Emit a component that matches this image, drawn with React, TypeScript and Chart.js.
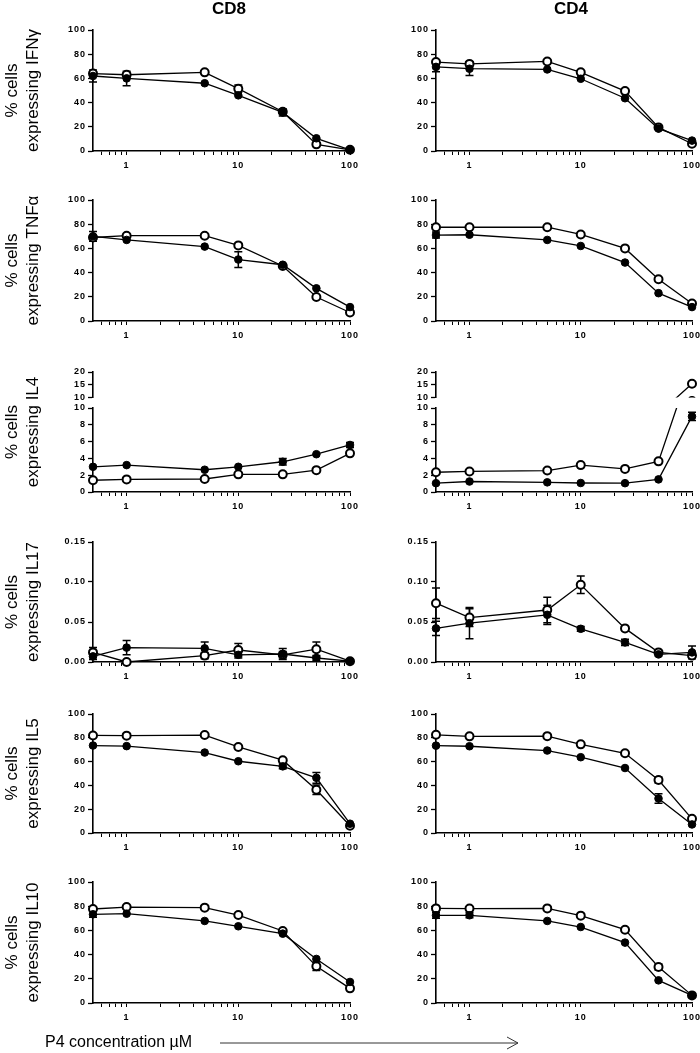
import React, { useEffect, useRef } from 'react';
import { Chart, registerables } from 'chart.js';

Chart.register(...registerables);

// ---------------- data ----------------
const concentrations = [0.5, 1, 5, 10, 25, 50, 100];
const xTickValues = [0.6, 0.7, 0.8, 0.9, 1, 2, 3, 4, 5, 6, 7, 8, 9, 10, 20, 30, 40, 50, 60, 70, 80, 90, 100];
const xLabelledValues = [1, 10, 100];
const xTickLabels = ['1', '10', '100'];
const columnTitles = ['CD8', 'CD4'];
const cytokines = ['IFNγ', 'TNFα', 'IL4', 'IL17', 'IL5', 'IL10'];
const yTitlePrefix = '% cells';
const xAxisTitle = 'P4 concentration µM';
const percentTicks = [0, 20, 40, 60, 80, 100];
const il4LowTicks = [0, 2, 4, 6, 8, 10];
const il4HighTicks = [10, 15, 20];
const il17Ticks = [0, 0.05, 0.1, 0.15];

const ifngCd8Filled = [62, 60, 56, 46, 32, 10.5, 1];
const ifngCd8FilledErr = [5, 6, 0, 0, 3, 0, 0];
const ifngCd8Open = [64, 63, 65, 51.5, 32.5, 5.5, 1];
const ifngCd8OpenErr = [1.5, 1.5, 0, 3, 1.5, 0, 0];
const ifngCd4Filled = [69.5, 68, 67.4, 59.7, 43.6, 18.5, 8.6];
const ifngCd4FilledErr = [4, 5.5, 0, 0, 0, 0, 0];
const ifngCd4Open = [73.5, 72, 74, 65, 49.5, 19.5, 6];
const ifngCd4OpenErr = [1.5, 1.5, 0, 0, 0, 0, 0];

const tnfCd8Filled = [70, 67, 61.5, 50.8, 46.5, 27, 11.5];
const tnfCd8FilledErr = [4, 0, 0, 6.5, 0, 0, 0];
const tnfCd8Open = [69, 70.5, 70.5, 62.5, 45.5, 19.8, 7];
const tnfCd8OpenErr = [0, 0, 0, 0, 0, 0, 0];
const tnfCd4Filled = [71, 71.3, 67, 62, 48.3, 23, 11.5];
const tnfCd4FilledErr = [2.5, 0, 0, 0, 0, 0, 0];
const tnfCd4Open = [77.5, 77.5, 77.5, 71.5, 60, 34.5, 14.5];
const tnfCd4OpenErr = [0, 0, 0, 0, 0, 0, 0];

const il4Cd8Filled = [3.0, 3.2, 2.65, 3.0, 3.6, 4.5, 5.6];
const il4Cd8FilledErr = [0, 0, 0, 0, 0.4, 0, 0.3];
const il4Cd8Open = [1.4, 1.5, 1.55, 2.1, 2.1, 2.6, 4.6];
const il4Cd8OpenErr = [0, 0, 0, 0, 0, 0, 0];
const il4Cd4Filled = [1.05, 1.25, 1.15, 1.07, 1.05, 1.5, 9.0];
const il4Cd4FilledErr = [0, 0, 0, 0, 0, 0, 0.5];
const il4Cd4Open = [2.35, 2.45, 2.55, 3.2, 2.75, 3.65, 15.4];
const il4Cd4OpenErr = [0, 0, 0, 0, 0, 0, 0];

const il17Cd8Filled = [0.007, 0.018, 0.017, 0.009, 0.01, 0.005, 0.001];
const il17Cd8FilledErr = [0.004, 0.009, 0.008, 0.004, 0.007, 0.003, 0];
const il17Cd8Open = [0.012, 0.0, 0.008, 0.015, 0.009, 0.016, 0.001];
const il17Cd8OpenErr = [0.006, 0, 0.004, 0.008, 0.004, 0.009, 0];
const il17Cd4Filled = [0.042, 0.0485, 0.059, 0.0415, 0.0245, 0.0095, 0.012];
const il17Cd4FilledErr = [0.009, 0.0195, 0.012, 0.003, 0.004, 0.002, 0.008];
const il17Cd4Open = [0.0735, 0.0555, 0.065, 0.0965, 0.042, 0.012, 0.008];
const il17Cd4OpenErr = [0.019, 0.011, 0.016, 0.011, 0.002, 0, 0.003];

const il5Cd8Filled = [73.5, 73, 67.6, 60.3, 56, 46.4, 7.8];
const il5Cd8FilledErr = [0, 0, 0, 0, 2, 4.5, 0];
const il5Cd8Open = [82, 81.8, 82.3, 72.3, 61.2, 36.3, 6.1];
const il5Cd8OpenErr = [0, 0, 0, 0, 0, 4, 0];
const il5Cd4Filled = [73.4, 72.9, 69.3, 63.7, 54.6, 29, 7.2];
const il5Cd4FilledErr = [0, 0, 0, 0, 0, 4, 0];
const il5Cd4Open = [82.5, 81.2, 81.4, 74.5, 67, 44.5, 11.9];
const il5Cd4OpenErr = [0, 0, 0, 0, 0, 2.5, 0];

const il10Cd8Filled = [73.3, 73.8, 67.8, 63.4, 57.3, 36.4, 17.4];
const il10Cd8FilledErr = [2.5, 0, 0, 0, 0, 0, 0];
const il10Cd8Open = [77.7, 79.3, 78.8, 72.7, 59.5, 30.3, 12.1];
const il10Cd8OpenErr = [0, 0, 0, 0, 0, 3.5, 0];
const il10Cd4Filled = [72.5, 72.5, 67.8, 62.8, 49.9, 18.7, 6.3];
const il10Cd4FilledErr = [2.5, 2, 0, 0, 0, 0, 0];
const il10Cd4Open = [78.2, 78, 78.2, 72.2, 60.6, 29.8, 6.3];
const il10Cd4OpenErr = [0, 0, 0, 0, 0, 2.5, 0];

// ---------------- layout ----------------
const FONT = '"Liberation Sans", Arial, Helvetica, sans-serif';
const X_AXIS_H = 22;
const COLS = [
  { cl: 0, cr: 366, pl: 93, pw: 257, titleX: 229 },
  { cl: 368, cr: 708, pl: 436, pw: 256, titleX: 571 },
];
const ROWS = [
  { ct: 0, pt: 30, ph: 121 },
  { ct: 180, pt: 200, ph: 121 },
  { ct: 360, pt: 408, ph: 84 },
  { ct: 522, pt: 542, ph: 120 },
  { ct: 694, pt: 714, ph: 119 },
  { ct: 862, pt: 882, ph: 121 },
];
const IL4_HIGH = { pt: 372, ph: 27 };
const IL4_TITLE_CENTER = 432;
const Y_TITLE_X = [12, 33];

type Panel = { filled: number[]; filledErr: number[]; open: number[]; openErr: number[] };

const rowPanels: Panel[][] = [
  [
    { filled: ifngCd8Filled, filledErr: ifngCd8FilledErr, open: ifngCd8Open, openErr: ifngCd8OpenErr },
    { filled: ifngCd4Filled, filledErr: ifngCd4FilledErr, open: ifngCd4Open, openErr: ifngCd4OpenErr },
  ],
  [
    { filled: tnfCd8Filled, filledErr: tnfCd8FilledErr, open: tnfCd8Open, openErr: tnfCd8OpenErr },
    { filled: tnfCd4Filled, filledErr: tnfCd4FilledErr, open: tnfCd4Open, openErr: tnfCd4OpenErr },
  ],
  [
    { filled: il4Cd8Filled, filledErr: il4Cd8FilledErr, open: il4Cd8Open, openErr: il4Cd8OpenErr },
    { filled: il4Cd4Filled, filledErr: il4Cd4FilledErr, open: il4Cd4Open, openErr: il4Cd4OpenErr },
  ],
  [
    { filled: il17Cd8Filled, filledErr: il17Cd8FilledErr, open: il17Cd8Open, openErr: il17Cd8OpenErr },
    { filled: il17Cd4Filled, filledErr: il17Cd4FilledErr, open: il17Cd4Open, openErr: il17Cd4OpenErr },
  ],
  [
    { filled: il5Cd8Filled, filledErr: il5Cd8FilledErr, open: il5Cd8Open, openErr: il5Cd8OpenErr },
    { filled: il5Cd4Filled, filledErr: il5Cd4FilledErr, open: il5Cd4Open, openErr: il5Cd4OpenErr },
  ],
  [
    { filled: il10Cd8Filled, filledErr: il10Cd8FilledErr, open: il10Cd8Open, openErr: il10Cd8OpenErr },
    { filled: il10Cd4Filled, filledErr: il10Cd4FilledErr, open: il10Cd4Open, openErr: il10Cd4OpenErr },
  ],
];

type TextItem = { text: string; x: number; y: number; font: string; align?: CanvasTextAlign; rotate?: number };
type LineItem = { points: number[][]; width: number; color: string };

type Spec = {
  key: string;
  left: number; top: number; width: number; height: number;
  padding: { left: number; top: number; right: number; bottom: number };
  yw: number; xh: number; showX: boolean;
  yMin: number; yMax: number; yTicks: number[]; yFmt: (v: number) => string;
  panel: Panel;
  clip: any;
  errClipTop: number;
  texts: TextItem[];
  lines: LineItem[];
};

const fmtInt = (v: number) => String(v);
const fmt2 = (v: number) => v.toFixed(2);

function buildSpecs(): Spec[] {
  const specs: Spec[] = [];
  ROWS.forEach((row, r) => {
    COLS.forEach((col, c) => {
      const panel = rowPanels[r][c];
      const isLast = r === ROWS.length - 1;
      const cr = isLast && c === 0 ? 530 : col.cr;
      const cb = isLast ? 1053 : row.pt + row.ph + X_AXIS_H;
      const texts: TextItem[] = [];
      const lines: LineItem[] = [];
      const titleCenter = r === 2 ? IL4_TITLE_CENTER : row.pt + row.ph / 2;
      if (c === 0) {
        [yTitlePrefix, 'expressing ' + cytokines[r]].forEach((t, k) => {
          texts.push({ text: t, x: Y_TITLE_X[k] - col.cl, y: titleCenter - row.ct, font: '17px ' + FONT, rotate: -Math.PI / 2 });
        });
      }
      if (r === 0) {
        texts.push({ text: columnTitles[c], x: col.titleX - col.cl, y: 9 - row.ct, font: 'bold 17px ' + FONT });
      }
      if (isLast && c === 0) {
        const fy = 1043 - row.ct;
        texts.push({ text: xAxisTitle, x: 45, y: fy, font: '16px ' + FONT, align: 'left' });
        lines.push({ points: [[220, fy], [518, fy]], width: 1, color: '#333' });
        lines.push({ points: [[507, fy - 6], [518, fy], [507, fy + 6]], width: 1, color: '#333' });
      }
      let yTicks = percentTicks;
      let yMin = 0;
      let yMax = 100;
      let yFmt = fmtInt;
      if (r === 2) { yTicks = il4LowTicks; yMax = 10; }
      if (r === 3) { yTicks = il17Ticks; yMax = 0.15; yFmt = fmt2; }

      if (r === 2) {
        const hb = IL4_HIGH.pt + IL4_HIGH.ph + 6;
        specs.push({
          key: `r${r}c${c}high`,
          left: col.cl, top: row.ct, width: col.cr - col.cl, height: hb - row.ct,
          padding: { left: 0, top: IL4_HIGH.pt - row.ct, right: col.cr - (col.pl + col.pw), bottom: 6 },
          yw: col.pl - col.cl, xh: 0, showX: false,
          yMin: 10, yMax: 20, yTicks: il4HighTicks, yFmt: fmtInt,
          panel, clip: { left: 10, right: 10, top: 10, bottom: 0 }, errClipTop: 10,
          texts: [], lines: [],
        });
      }
      specs.push({
        key: `r${r}c${c}`,
        left: col.cl, top: row.ct, width: cr - col.cl, height: cb - row.ct,
        padding: { left: 0, top: row.pt - row.ct, right: cr - (col.pl + col.pw), bottom: cb - (row.pt + row.ph) - X_AXIS_H },
        yw: col.pl - col.cl, xh: X_AXIS_H, showX: true,
        yMin, yMax, yTicks, yFmt,
        panel,
        clip: r === 2 ? { left: 10, right: 10, top: 0, bottom: 10 } : 10,
        errClipTop: r === 2 ? 0 : 10,
        texts, lines,
      });
    });
  });
  return specs;
}

const SPECS = buildSpecs();

// ---------------- plugins ----------------
const errorBarPlugin = {
  id: 'errorBars',
  beforeDatasetsDraw(chart: any) {
    const { ctx, chartArea } = chart;
    const yScale = chart.scales.y;
    const clipTop = chart.options.plugins.errorBars?.clipTop ?? 10;
    ctx.save();
    ctx.beginPath();
    ctx.rect(chartArea.left - 10, chartArea.top - clipTop, chartArea.width + 20, chartArea.height + clipTop);
    ctx.clip();
    ctx.strokeStyle = '#000';
    ctx.lineWidth = 1.5;
    chart.data.datasets.forEach((ds: any, i: number) => {
      const meta = chart.getDatasetMeta(i);
      const errs: number[] = ds.errors || [];
      meta.data.forEach((pt: any, j: number) => {
        const e = errs[j];
        if (!e) return;
        const v = ds.data[j].y;
        const yTop = yScale.getPixelForValue(v + e);
        const yBot = yScale.getPixelForValue(v - e);
        const x = pt.x;
        ctx.beginPath();
        ctx.moveTo(x, yTop);
        ctx.lineTo(x, yBot);
        ctx.moveTo(x - 4, yTop);
        ctx.lineTo(x + 4, yTop);
        ctx.moveTo(x - 4, yBot);
        ctx.lineTo(x + 4, yBot);
        ctx.stroke();
      });
    });
    ctx.restore();
  },
};

const spacingPlugin = {
  id: 'tickSpacing',
  beforeDraw(chart: any) {
    (chart.ctx as any).letterSpacing = '1px';
  },
  afterDraw(chart: any) {
    (chart.ctx as any).letterSpacing = '0px';
  },
};

function makeAnnotPlugin(texts: TextItem[], lines: LineItem[]) {
  return {
    id: 'annot',
    afterDraw(chart: any) {
      const ctx: CanvasRenderingContext2D = chart.ctx;
      ctx.save();
      (ctx as any).letterSpacing = '0px';
      lines.forEach((l) => {
        ctx.beginPath();
        ctx.strokeStyle = l.color;
        ctx.lineWidth = l.width;
        l.points.forEach(([x, y], k) => (k ? ctx.lineTo(x, y) : ctx.moveTo(x, y)));
        ctx.stroke();
      });
      texts.forEach((t) => {
        ctx.save();
        ctx.translate(t.x, t.y);
        if (t.rotate) ctx.rotate(t.rotate);
        ctx.font = t.font;
        ctx.fillStyle = '#000';
        ctx.textAlign = t.align || 'center';
        ctx.textBaseline = 'middle';
        ctx.fillText(t.text, 0, 0);
        ctx.restore();
      });
      ctx.restore();
    },
  };
}

function buildConfig(spec: Spec): any {
  const tickFont = { family: FONT, size: 9, weight: 'bold' as const };
  const { panel } = spec;
  return {
    type: 'line',
    data: {
      datasets: [
        {
          label: 'filled',
          data: concentrations.map((x, i) => ({ x, y: panel.filled[i] })),
          errors: panel.filledErr,
          borderColor: '#000',
          backgroundColor: '#000',
          borderWidth: 1.3,
          pointRadius: 3.8,
          pointBorderWidth: 1,
          pointBackgroundColor: '#000',
          pointBorderColor: '#000',
          tension: 0,
          clip: spec.clip,
        },
        {
          label: 'open',
          data: concentrations.map((x, i) => ({ x, y: panel.open[i] })),
          errors: panel.openErr,
          borderColor: '#000',
          backgroundColor: '#fff',
          borderWidth: 1.3,
          pointRadius: 4,
          pointBorderWidth: 2,
          pointBackgroundColor: '#fff',
          pointBorderColor: '#000',
          tension: 0,
          clip: spec.clip,
        },
      ],
    },
    options: {
      responsive: false,
      animation: false,
      events: [],
      layout: { padding: spec.padding, autoPadding: false },
      plugins: {
        legend: { display: false },
        tooltip: { enabled: false },
        title: { display: false },
        errorBars: { clipTop: spec.errClipTop },
      },
      scales: {
        x: {
          type: 'logarithmic',
          min: 0.5,
          max: 100,
          display: spec.showX,
          afterBuildTicks: (s: any) => {
            s.ticks = xTickValues.map((v) => ({ value: v }));
          },
          afterFit: (s: any) => {
            s.height = spec.xh;
          },
          ticks: {
            autoSkip: false,
            maxRotation: 0,
            minRotation: 0,
            padding: 5,
            color: '#000',
            font: tickFont,
            callback: (v: any) => {
              const k = xLabelledValues.indexOf(Number(v));
              return k >= 0 ? xTickLabels[k] : '';
            },
          },
          grid: { drawOnChartArea: false, drawTicks: true, tickLength: 4, color: '#000', tickWidth: 1 },
          border: { display: true, color: '#000', width: 1.6 },
        },
        y: {
          type: 'linear',
          min: spec.yMin,
          max: spec.yMax,
          afterBuildTicks: (s: any) => {
            s.ticks = spec.yTicks.map((v) => ({ value: v }));
          },
          afterFit: (s: any) => {
            s.width = spec.yw;
          },
          ticks: {
            autoSkip: false,
            padding: 2,
            color: '#000',
            font: tickFont,
            callback: (v: any) => spec.yFmt(Number(v)),
          },
          grid: { drawOnChartArea: false, drawTicks: true, tickLength: 5, color: '#000', tickWidth: 1.3 },
          border: { display: true, color: '#000', width: 1.6 },
        },
      },
    },
    plugins: [errorBarPlugin, spacingPlugin, makeAnnotPlugin(spec.texts, spec.lines)],
  };
}

function ChartCanvas({ spec }: { spec: Spec }) {
  const ref = useRef<HTMLCanvasElement>(null);
  useEffect(() => {
    if (!ref.current) return;
    const chart = new Chart(ref.current, buildConfig(spec));
    return () => chart.destroy();
  }, [spec]);
  return (
    <canvas
      ref={ref}
      width={spec.width}
      height={spec.height}
      style={{ position: 'absolute', left: spec.left, top: spec.top, width: spec.width, height: spec.height }}
    />
  );
}

export default function App() {
  return (
    <div
      style={{
        position: 'absolute',
        left: 0,
        top: 0,
        width: 700,
        height: 1053,
        overflow: 'hidden',
        background: '#fff',
      }}
    >
      {SPECS.map((s) => (
        <ChartCanvas key={s.key} spec={s} />
      ))}
    </div>
  );
}
